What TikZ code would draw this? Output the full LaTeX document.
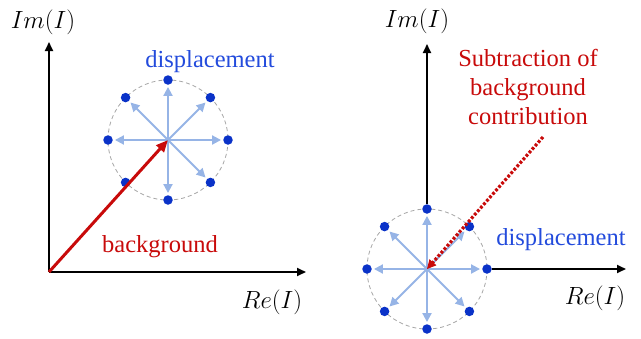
\documentclass[tikz,border=0pt]{standalone}
\usepackage{fontspec}
\setmainfont{Liberation Serif}
\usetikzlibrary{arrows.meta,calc}
\definecolor{dotblue}{RGB}{10,50,200}
\definecolor{txtblue}{RGB}{35,75,220}
\definecolor{lblue}{RGB}{150,180,230}
\definecolor{myred}{RGB}{200,10,10}
\tikzset{
  axis/.style={line width=1.8pt,-{Triangle[length=9pt,width=8pt]}},
  disp/.style={lblue,line width=2pt,-{Triangle[length=9pt,width=9pt]},shorten >=2pt},
  bdot/.style={circle,fill=dotblue,inner sep=0pt,minimum size=9.5pt},
  ring/.style={gray!70,line width=0.8pt,dash pattern=on 4pt off 3pt},
  lab/.style={font=\fontsize{24.5}{29}\selectfont,inner sep=0pt},
  redarr/.style={myred,line width=3pt,-{Triangle[length=12pt,width=10pt]}},
  reddot/.style={myred,line width=3.2pt,dash pattern=on 2.8pt off 1.8pt},
  redtip/.style={myred,line width=1pt,-{Triangle[length=9pt,width=9pt]}}
}
\begin{document}
\begin{tikzpicture}[x=1pt,y=-1pt]
\useasboundingbox (0,0) rectangle (641,338);
% ---------- left panel ----------
\coordinate (O1) at (49,272);
\coordinate (c1) at (168,140);
\coordinate (Y1) at (49,42);
\coordinate (X1) at (306,272);
\draw[axis] (O1) -- (Y1);
\draw[axis] (O1) -- (X1);
\node[lab] (im1) at (43,22) {$Im(I)$};
\node[lab] (re1) at (272,302) {$Re(I)$};
\draw[ring] (c1) circle (60);
\foreach \a [count=\i] in {0,45,90,135,180,225,270,315}{
  \node[bdot] (l\i) at ($(c1)+(\a:60 and -60)$) {};
}
\foreach \i in {1,2,3,4,5,7,8}{
  \draw[disp] (c1) -- (l\i);
}
\draw[redarr] (O1) -- (c1);
\node[lab,text=txtblue] (dl) at (210,62) {displacement};
\node[lab,text=myred] (bg) at (160,247) {background};
% ---------- right panel ----------
\coordinate (c2) at (427,269);
\coordinate (Y2) at (427,44);
\coordinate (X2) at (626,269);
\draw[ring] (c2) circle (60);
\foreach \a [count=\i] in {0,45,90,135,180,225,270,315}{
  \node[bdot] (r\i) at ($(c2)+(\a:60 and -60)$) {};
}
\draw[axis] (r3) -- (Y2);
\draw[axis] (r1) -- (X2);
\foreach \i in {1,2,3,4,5,6,7,8}{
  \draw[disp] (c2) -- (r\i);
}
\node[lab] (im2) at (417,21) {$Im(I)$};
\node[lab] (re2) at (595,298) {$Re(I)$};
\coordinate (s) at (543,137);
\draw[reddot] (s) -- ($(c2)!8pt!(s)$);
\draw[redtip] ($(c2)!9pt!(s)$) -- (c2);
\node[lab,text=myred,align=center] (sub) at (528,87) {Subtraction of\\background\\contribution};
\node[lab,text=txtblue] (dr) at (561,240) {displacement};
\end{tikzpicture}
\end{document}
